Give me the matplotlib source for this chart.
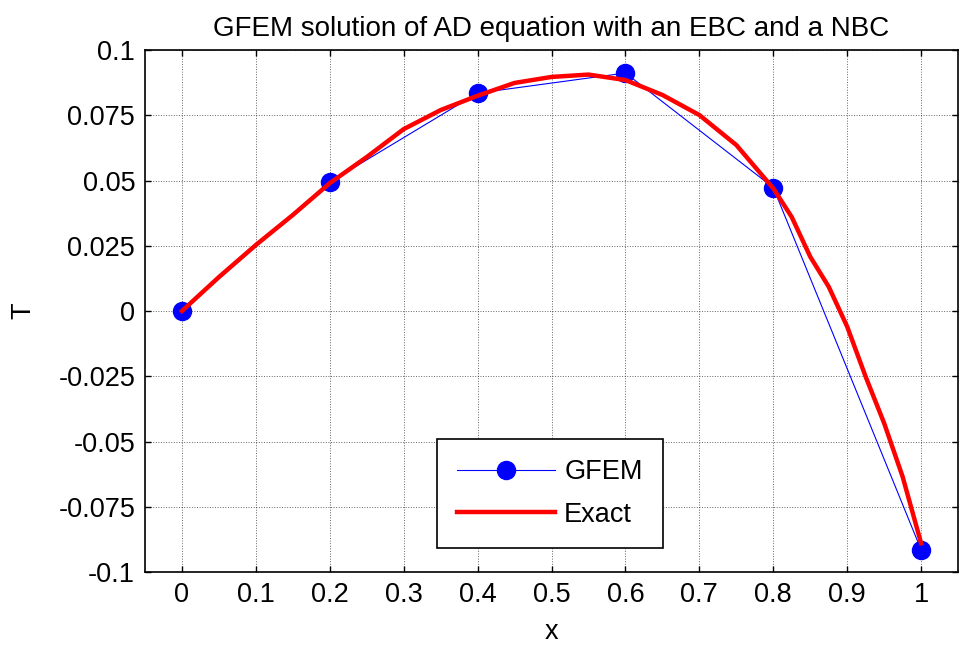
import numpy as np
import matplotlib.pyplot as plt

plt.rcParams['font.family'] = ['Liberation Sans', 'DejaVu Sans']

# GFEM nodal solution
x_gfem = [0.0, 0.2, 0.4, 0.6, 0.8, 1.0]
t_gfem = [0.0, 0.0494, 0.0835, 0.0912, 0.0473, -0.0915]

# Exact solution
x_exact = [0.0, 0.05, 0.1, 0.15, 0.2, 0.25, 0.3, 0.35, 0.4, 0.45, 0.5, 0.55,
           0.6, 0.65, 0.7, 0.75, 0.8, 0.825, 0.85, 0.875, 0.9, 0.925, 0.95,
           0.975, 1.0]
t_exact = [0.0, 0.013, 0.0253, 0.0368, 0.049, 0.059, 0.0697, 0.077, 0.0825,
           0.0874, 0.0897, 0.0906, 0.0885, 0.0828, 0.0751, 0.0636, 0.047,
           0.036, 0.0208, 0.0093, -0.006, -0.0252, -0.043, -0.0635, -0.089]

xticks = [0, 0.1, 0.2, 0.3, 0.4, 0.5, 0.6, 0.7, 0.8, 0.9, 1]
xticklabels = ['0', '0.1', '0.2', '0.3', '0.4', '0.5', '0.6', '0.7', '0.8', '0.9', '1']
yticks = [-0.1, -0.075, -0.05, -0.025, 0, 0.025, 0.05, 0.075, 0.1]
yticklabels = ['-0.1', '-0.075', '-0.05', '-0.025', '0', '0.025', '0.05', '0.075', '0.1']

fig = plt.figure(figsize=(9.6, 6.5), dpi=100)
ax = fig.add_axes([0.151, 0.12, 0.847, 0.803])

ax.plot(x_gfem, t_gfem, '-o', color='blue', linewidth=0.8,
        markersize=13, label='GFEM', zorder=3)
ax.plot(x_exact, t_exact, '-', color='red', linewidth=3.2,
        label='Exact', zorder=4)

ax.set_xlim(-0.05, 1.05)
ax.set_ylim(-0.1, 0.1)
ax.set_xticks(xticks)
ax.set_xticklabels(xticklabels)
ax.set_yticks(yticks)
ax.set_yticklabels(yticklabels)
ax.tick_params(direction='in', length=4, width=1, labelsize=19.5,
               top=True, right=True, pad=7)
ax.grid(True, linestyle=':', color='black', linewidth=0.7, alpha=0.6)
for s in ax.spines.values():
    s.set_linewidth(1.2)

ax.set_title('GFEM solution of AD equation with an EBC and a NBC',
             fontsize=20, pad=10)
ax.set_xlabel('x', fontsize=19.5, labelpad=8)
ax.set_ylabel('T', fontsize=19.5, labelpad=16)

leg = ax.legend(loc='lower left', bbox_to_anchor=(0.359, 0.046),
                fontsize=19.5, handlelength=3.6, handletextpad=0.35,
                borderpad=0.75, labelspacing=0.6, fancybox=False,
                framealpha=1, edgecolor='black', borderaxespad=0)
leg.get_frame().set_linewidth(1.2)

fig.savefig('out.png', dpi=100)
